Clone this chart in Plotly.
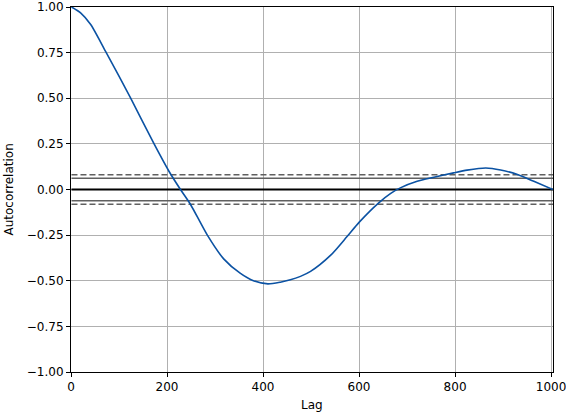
import numpy as np
import plotly.graph_objects as go

# Autocorrelation curve (lag, autocorrelation)
lags = [1, 20, 41, 72, 124, 172, 204, 228, 249, 284, 318, 353, 380, 410,
        436, 457, 478, 499, 541, 575, 600, 641, 666, 686, 721, 756, 797,
        825, 864, 895, 930, 964, 1004]
acf = [1.0, 0.968, 0.904, 0.757, 0.502, 0.255, 0.10, 0.0, -0.082, -0.25,
       -0.38, -0.46, -0.50, -0.517, -0.508, -0.495, -0.476, -0.449, -0.36,
       -0.258, -0.18, -0.073, -0.021, 0.009, 0.045, 0.067, 0.091, 0.106,
       0.118, 0.107, 0.082, 0.045, 0.0]

n = 1004
z95 = 1.959963984540054
z99 = 2.5758293035489004
band95 = z95 / np.sqrt(n)
band99 = z99 / np.sqrt(n)

x_ticks = [0, 200, 400, 600, 800, 1000]
y_ticks = [-1.0, -0.75, -0.5, -0.25, 0.0, 0.25, 0.5, 0.75, 1.0]

FONT = dict(family="DejaVu Sans", size=12, color="black")

fig = go.Figure()
xr = [0, n]
for yv, dash in [(band99, "6px,3px"), (band95, "solid"), (-band95, "solid"), (-band99, "6px,3px")]:
    fig.add_trace(go.Scatter(x=[1, n], y=[yv, yv], mode="lines",
                             line=dict(color="#606060", width=1.5, dash=dash),
                             hoverinfo="skip", showlegend=False))
fig.add_trace(go.Scatter(x=[1, n], y=[0, 0], mode="lines",
                         line=dict(color="black", width=1.8),
                         hoverinfo="skip", showlegend=False))
fig.add_trace(go.Scatter(x=lags, y=acf, mode="lines",
                         line=dict(color="#0b52a3", width=1.6, shape="spline", smoothing=0.7),
                         showlegend=False))

axis_common = dict(showline=True, linecolor="black", linewidth=1, mirror=True,
                   ticks="outside", ticklen=4, tickcolor="black",
                   showgrid=True, gridcolor="#b0b0b0", gridwidth=1,
                   zeroline=False, automargin=False, tickfont=FONT,
                   ticklabeloverflow="allow")

fig.update_xaxes(range=xr, tickvals=x_ticks, ticktext=[str(v) for v in x_ticks],
                 **axis_common)
fig.update_yaxes(range=[-1, 1], tickvals=y_ticks,
                 ticktext=[f"{v:.2f}".replace("-", "\u2212") for v in y_ticks],
                 **axis_common)

fig.add_annotation(text="Lag", xref="paper", yref="paper", x=0.5, y=-0.0904,
                   xanchor="center", yanchor="middle", showarrow=False, font=FONT)
fig.add_annotation(text="Autocorrelation", xref="paper", yref="paper", x=-0.1307, y=0.5,
                   xanchor="center", yanchor="middle", textangle=-90, showarrow=False, font=FONT)

fig.update_layout(width=566, height=414, margin=dict(l=71, r=13, t=7, b=42),
                  paper_bgcolor="white", plot_bgcolor="white", font=FONT)

fig.write_html("out.html", config={"displayModeBar": False})

with open("out.html", "r", encoding="utf-8") as f:
    html = f.read()
html = html.replace("<body>", '<body style="margin:0;padding:0;overflow:hidden">', 1)
with open("out.html", "w", encoding="utf-8") as f:
    f.write(html)
